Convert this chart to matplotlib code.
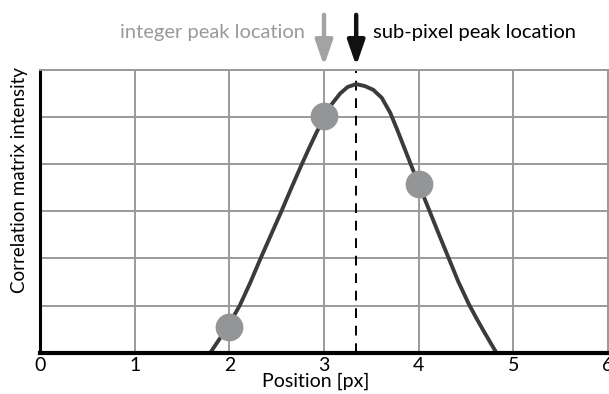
import numpy as np
from matplotlib import pyplot as plt

plt.rcParams['font.family'] = ['Lato', 'DejaVu Sans']

# points
curve_x = [1.80, 1.90, 2.00, 2.11, 2.22, 2.33, 2.44, 2.55, 2.65, 2.75, 2.84,
           2.92, 3.00, 3.08, 3.17, 3.25, 3.34, 3.43, 3.52, 3.61, 3.70, 3.77,
           3.84, 3.92, 4.00, 4.11, 4.21, 4.31, 4.42, 4.53, 4.61, 4.68, 4.75, 4.82]
curve_y = [0.00, 0.30, 0.61, 1.00, 1.48, 2.00, 2.50, 3.00, 3.47, 3.93, 4.33,
           4.67, 4.98, 5.27, 5.50, 5.64, 5.70, 5.66, 5.58, 5.41, 5.09, 4.75,
           4.39, 3.98, 3.58, 3.03, 2.53, 2.04, 1.50, 1.03, 0.73, 0.48, 0.24, 0.00]

# integer samples
pts_x = [2, 3, 4]
pts_y = [0.54, 5.03, 3.58]

int_peak = 3
sub_peak = 3.34

fig = plt.figure(figsize=(6.09, 3.94), dpi=100)
ax = fig.add_axes([40/609, 1 - 352.6/394, 568/609, 282.6/394])

ax.set_xlim(0, 6)
ax.set_ylim(0, 6)
ax.set_xticks(range(7))
ax.set_yticks(range(7))
ax.set_yticklabels([])
ax.grid(True, color='#9a9a9a', lw=1.4)
ax.set_axisbelow(True)
ax.tick_params(length=0, labelsize=14, pad=3)

for s in ['top', 'right']:
    ax.spines[s].set_color('#9a9a9a')
    ax.spines[s].set_linewidth(1.4)
ax.spines['bottom'].set_linewidth(3)
ax.spines['left'].set_linewidth(2.2)
ax.spines['bottom'].set_zorder(5)

ax.plot(curve_x, curve_y, color='#3b3b3b', lw=2.8, solid_joinstyle='round', zorder=3)
ax.plot([sub_peak, sub_peak], [0, 6], color='black', lw=1.4, ls=(0, (5, 4)), zorder=2)
ax.plot(pts_x, pts_y, 'o', color='#939597', ms=20, mec='none', zorder=4)

fig.text(316/609, 1 - 381/394, 'Position [px]', ha='center', va='center', fontsize=14)
fig.text(20/609, 1 - 180/394, 'Correlation matrix intensity', rotation=90,
         ha='center', va='center', fontsize=13.5)

style = '-|>,head_length=0.75,head_width=0.26'
ax.annotate('', xy=(int_peak, 6.03), xytext=(int_peak, 7.23), annotation_clip=False,
            arrowprops=dict(arrowstyle=style, mutation_scale=20, color='#a3a3a3', lw=3.2))
ax.annotate('', xy=(sub_peak, 6.03), xytext=(sub_peak, 7.23), annotation_clip=False,
            arrowprops=dict(arrowstyle=style, mutation_scale=20, color='#111111', lw=3.2))
ax.text(2.80, 6.79, 'integer peak location', color='#9a9a9a',
        ha='right', va='center', fontsize=14.5)
ax.text(3.52, 6.79, 'sub-pixel peak location', color='black',
        ha='left', va='center', fontsize=14.5)

fig.savefig('out.png', dpi=100)
